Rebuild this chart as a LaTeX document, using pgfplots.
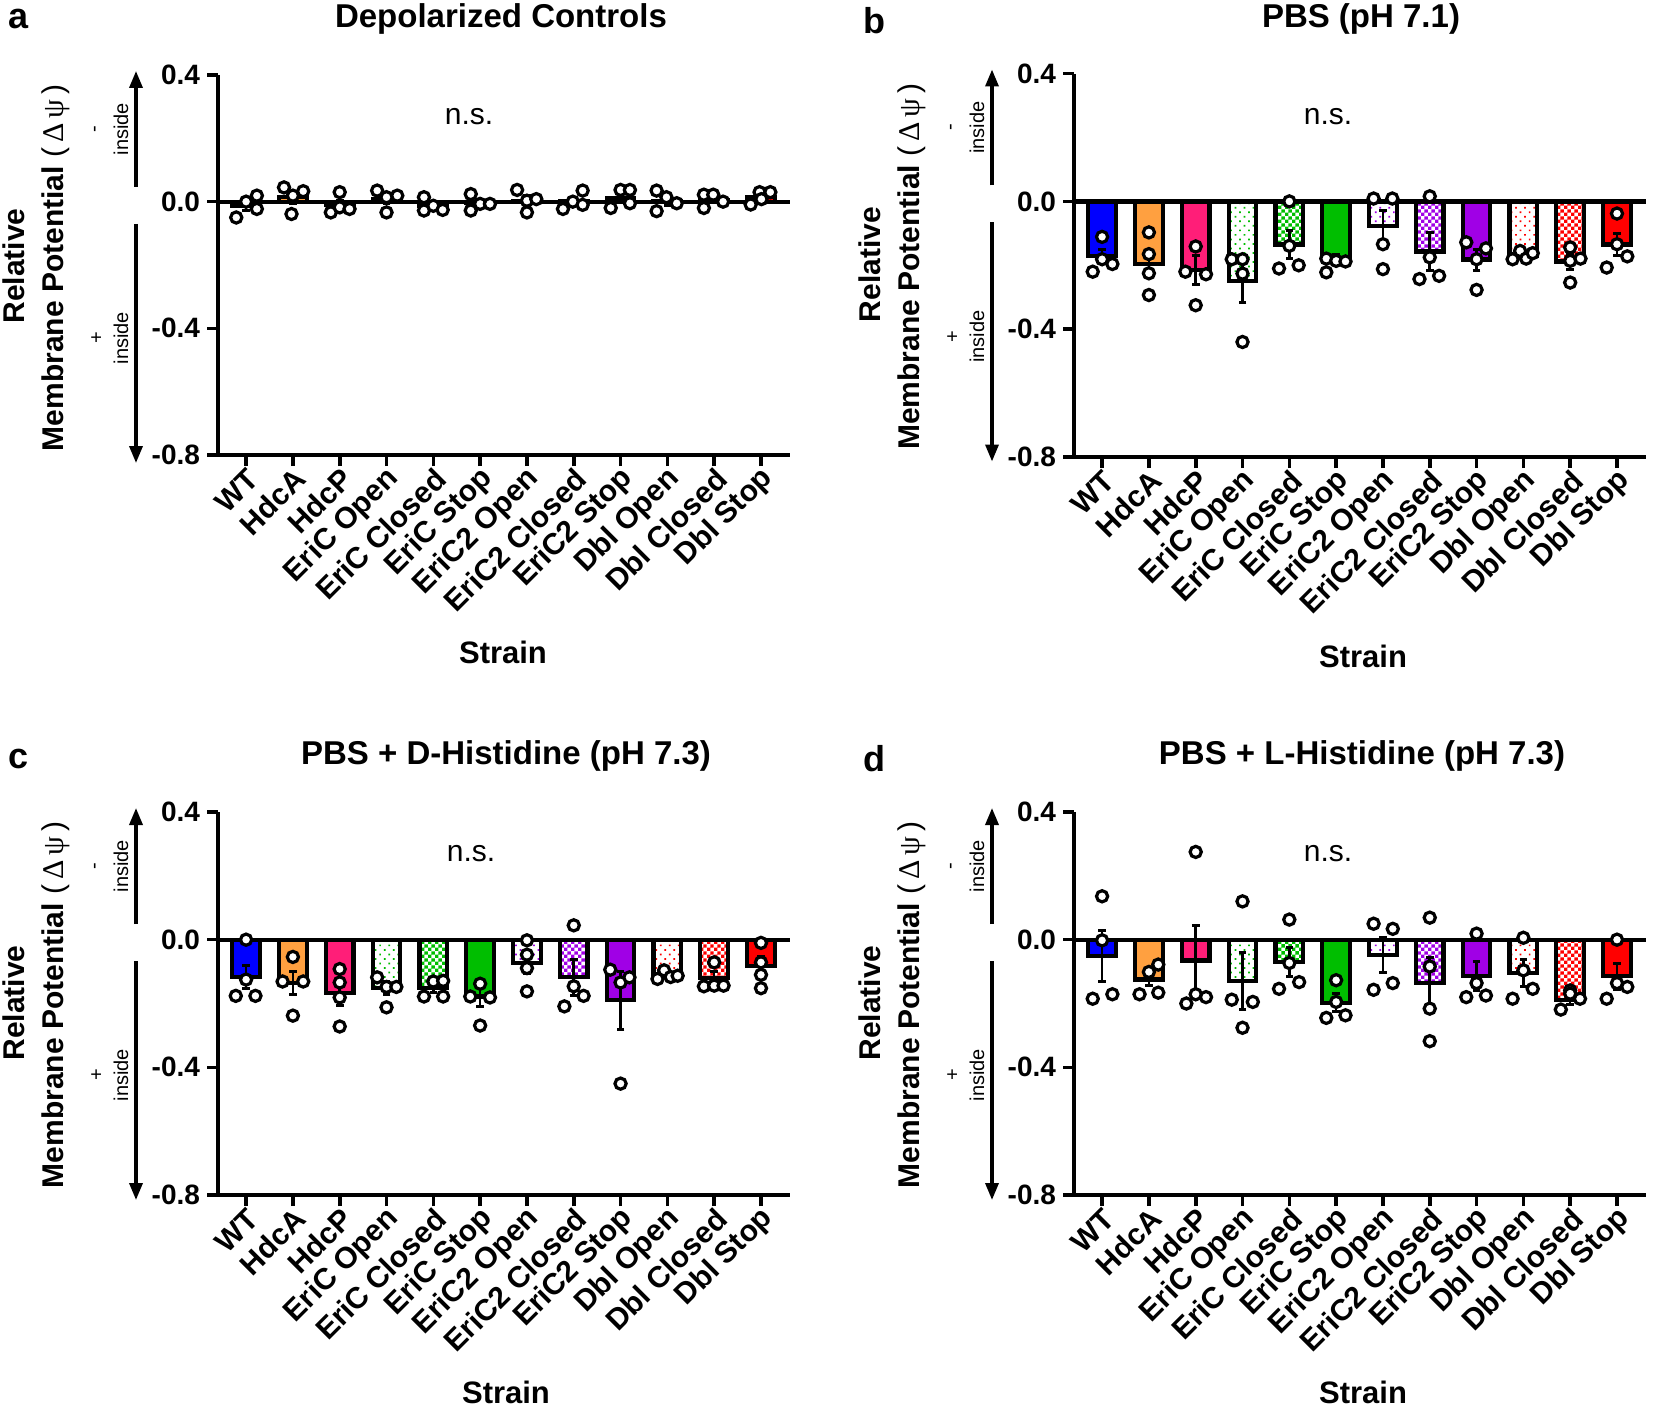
\documentclass[border=0pt]{standalone}
\usepackage{fontspec}
\setmainfont{Liberation Sans}
\newfontfamily\grk{Liberation Serif}
\usepackage{pgfplots}
\usepackage{pgfplotstable}
\pgfplotsset{compat=1.18}
\usetikzlibrary{patterns,patterns.meta,arrows.meta}

\definecolor{cblue}{RGB}{0,0,255}
\definecolor{corange}{RGB}{255,160,64}
\definecolor{cpink}{RGB}{255,30,120}
\definecolor{cgreen}{RGB}{0,190,0}
\definecolor{cpurple}{RGB}{160,0,230}
\definecolor{cred}{RGB}{255,0,0}

\pgfdeclarepatternformonly{finechecker}{\pgfpointorigin}{\pgfqpoint{3.4pt}{3.4pt}}{\pgfqpoint{3.4pt}{3.4pt}}{%
  \pgfpathrectangle{\pgfpointorigin}{\pgfqpoint{1.7pt}{1.7pt}}%
  \pgfpathrectangle{\pgfqpoint{1.7pt}{1.7pt}}{\pgfqpoint{1.7pt}{1.7pt}}%
  \pgfusepath{fill}}

\pgfplotsset{
  barbase/.style={ybar, bar width=0.59, bar shift=0pt, draw=black, line width=2.1pt,
    error bars/y dir=both, error bars/y explicit,
    error bars/error bar style={line width=1.3pt, black},
    error bars/error mark options={rotate=90, black, mark size=1.9pt, line width=1.5pt}},
  bs0/.style={barbase, fill=cblue},
  bs1/.style={barbase, fill=corange},
  bs2/.style={barbase, fill=cpink},
  bs3/.style={barbase, fill=white, postaction={pattern={Dots[angle=45,distance=3.2pt,radius=0.6pt]}, pattern color=cgreen}},
  bs4/.style={barbase, fill=white, postaction={pattern=finechecker, pattern color=cgreen}},
  bs5/.style={barbase, fill=cgreen},
  bs6/.style={barbase, fill=white, postaction={pattern={Dots[angle=45,distance=3.2pt,radius=0.6pt]}, pattern color=cpurple}},
  bs7/.style={barbase, fill=white, postaction={pattern=finechecker, pattern color=cpurple}},
  bs8/.style={barbase, fill=cpurple},
  bs9/.style={barbase, fill=white, postaction={pattern={Dots[angle=45,distance=3.2pt,radius=0.6pt]}, pattern color=cred}},
  bs10/.style={barbase, fill=white, postaction={pattern=finechecker, pattern color=cred}},
  bs11/.style={barbase, fill=cred},
  panel/.style={
    scale only axis, width=286pt, xmin=-0.6, xmax=11.62, ymin=-0.8, ymax=0.4,
    axis x line*=bottom, axis y line*=left, axis line style={line width=1.8pt},
    xtick={0,...,11},
    xticklabels={WT,HdcA,HdcP,EriC Open,EriC Closed,EriC Stop,EriC2 Open,EriC2 Closed,EriC2 Stop,Dbl Open,Dbl Closed,Dbl Stop},
    ytick={-0.8,-0.4,0,0.4}, yticklabels={-0.8,-0.4,0.0,0.4},
    tick align=outside, major tick length=5.5pt, tick style={line width=1.8pt, black},
    xticklabel style={rotate=45, anchor=east, font=\fontsize{15}{15}\selectfont\bfseries, inner sep=1pt, yshift=-5.5pt, xshift=1pt},
    yticklabel style={font=\fontsize{14}{14}\selectfont\bfseries},
    clip=false, anchor=south west,
  },
}

\pgfplotstableread{
x y e
0 -0.013 0.015
1 0.014 0.019
2 -0.011 0.014
3 0.008 0.015
4 -0.013 0.010
5 -0.005 0.011
6 0.003 0.015
7 0.001 0.012
8 0.012 0.015
9 0.003 0.014
10 0.006 0.010
11 0.015 0.010
}\barsA
\pgfplotstableread{
x y
-0.21 -0.05
0 0
0.23 0.019
0.23 -0.023
0.81 0.045
1 0.019
1.22 0.033
0.97 -0.039
1.81 -0.034
2 0.03
2 -0.018
2.21 -0.023
2.8 0.035
3 0.014
3.23 0.019
3 -0.034
3.8 0.014
3.8 -0.028
4 -0.013
4.2 -0.026
4.8 0.024
4.8 -0.028
5 -0.007
5.21 -0.007
5.79 0.037
6 0.003
6.2 0.008
6 -0.034
6.77 -0.023
6.98 0
7.19 0.035
7.19 -0.01
7.79 -0.02
8 0.037
8.2 0.037
8.2 -0.005
8.77 0.035
8.77 -0.03
8.98 0.014
9.2 -0.005
9.78 0.022
9.78 -0.02
9.98 0.022
10.19 0
10.78 -0.009
10.97 0.03
11.01 0.008
11.2 0.03
}\ptsA

\pgfplotstableread{
x y e
0 -0.172 0.023
1 -0.195 0.042
2 -0.215 0.045
3 -0.250 0.065
4 -0.135 0.045
5 -0.178 0.012
6 -0.078 0.050
7 -0.157 0.060
8 -0.182 0.033
9 -0.170 0.006
10 -0.188 0.024
11 -0.135 0.035
}\barsB
\pgfplotstableread{
x y
0 -0.111
0 -0.181
-0.2 -0.220
0.22 -0.196
1 -0.097
1 -0.165
1 -0.225
1 -0.293
2 -0.141
1.78 -0.22
2.22 -0.228
2 -0.325
2.77 -0.181
3 -0.181
3 -0.226
3 -0.44
4 0.0
4 -0.139
3.78 -0.21
4.2 -0.2
4.79 -0.179
4.79 -0.222
5 -0.186
5.2 -0.188
5.8 0.009
6.2 0.009
6 -0.134
6 -0.212
7 0.016
7 -0.175
6.78 -0.243
7.2 -0.233
7.78 -0.128
8.2 -0.147
8 -0.181
8 -0.277
8.77 -0.181
8.93 -0.155
9.06 -0.179
9.2 -0.162
10 -0.144
10 -0.186
10.22 -0.179
10 -0.254
11 -0.038
11 -0.134
11.22 -0.172
10.78 -0.207
}\ptsB

\pgfplotstableread{
x y e
0 -0.117 0.037
1 -0.135 0.036
2 -0.168 0.038
3 -0.152 0.020
4 -0.152 0.013
5 -0.178 0.030
6 -0.072 0.035
7 -0.118 0.057
8 -0.190 0.090
9 -0.110 0.006
10 -0.120 0.020
11 -0.082 0.030
}\barsC
\pgfplotstableread{
x y
0 0.0
0 -0.125
-0.22 -0.176
0.2 -0.176
1 -0.054
0.78 -0.131
1.22 -0.131
1 -0.238
2 -0.092
2 -0.134
2 -0.181
2 -0.272
2.8 -0.118
3 -0.148
3.21 -0.148
3 -0.212
4 -0.131
4.21 -0.129
3.8 -0.178
4.21 -0.178
5 -0.138
4.79 -0.178
5.21 -0.181
5 -0.269
6 -0.002
6 -0.047
6 -0.089
6 -0.162
7 0.045
7 -0.146
7.21 -0.176
6.8 -0.209
7.78 -0.094
8 -0.134
8.19 -0.118
8 -0.451
8.79 -0.123
8.93 -0.096
9.07 -0.117
9.22 -0.113
10 -0.071
9.78 -0.146
10 -0.144
10.2 -0.144
11 -0.01
11 -0.071
11 -0.11
11 -0.152
}\ptsC

\pgfplotstableread{
x y e
0 -0.050 0.080
1 -0.125 0.020
2 -0.065 0.110
3 -0.130 0.090
4 -0.070 0.045
5 -0.198 0.028
6 -0.048 0.055
7 -0.135 0.080
8 -0.113 0.045
9 -0.104 0.042
10 -0.190 0.014
11 -0.115 0.040
}\barsD
\pgfplotstableread{
x y
0 0.136
0 -0.002
-0.2 -0.185
0.22 -0.171
1 -0.101
1.2 -0.078
0.8 -0.171
1.2 -0.166
2 0.275
1.8 -0.2
2 -0.171
2.22 -0.18
3 0.12
2.77 -0.188
3.22 -0.195
3 -0.276
4 0.063
4 -0.073
3.78 -0.154
4.21 -0.133
5 -0.127
5 -0.195
4.79 -0.245
5.2 -0.237
5.8 0.05
6.21 0.034
5.8 -0.157
6.21 -0.136
7 0.069
7 -0.084
7 -0.216
7 -0.318
8 0.019
8 -0.136
7.78 -0.18
8.2 -0.175
9 0.006
9 -0.096
8.77 -0.185
9.2 -0.154
10 -0.159
9.8 -0.219
10 -0.169
10.21 -0.185
11 0.0
11 -0.136
10.78 -0.185
11.22 -0.148
}\ptsD

\newcommand\panelplots[2]{%
  \pgfplotsinvokeforeach{0,...,11}{%
    \addplot[bs##1, restrict expr to domain={\coordindex}{##1:##1}] table[x=x,y=y,y error=e] {#1};
  }
  \draw[line width=2.1pt] (axis cs:-0.6,0) -- (axis cs:11.62,0);
  \addplot[only marks, mark=*, mark size=2.8pt, mark options={fill=white,draw=black,line width=1.6pt}] table[x=x,y=y] {#2};
}

\newcommand\annot[2]{%
  \draw[line width=1.7pt,-{Triangle[length=8.5pt,width=6.5pt]}] ({#1-82},{#2+112}) -- ({#1-82},{#2-4});
  \draw[line width=1.7pt,-{Triangle[length=8.5pt,width=6.5pt]}] ({#1-82},{#2+149}) -- ({#1-82},{#2+388});
  \node[rotate=90,font=\fontsize{10}{10}\selectfont] at ({#1-97},{#2+54}) {inside};
  \node[rotate=90,font=\fontsize{10}{10}\selectfont] at ({#1-121},{#2+54}) {-};
  \node[rotate=90,font=\fontsize{10}{10}\selectfont] at ({#1-97},{#2+263}) {inside};
  \node[rotate=90,font=\fontsize{10}{10}\selectfont] at ({#1-121},{#2+263}) {+};
  \node[rotate=90,font=\fontsize{15}{15}\selectfont\bfseries] at ({#1-204},{#2+191}) {Relative};
  \node[rotate=90,font=\fontsize{15}{15}\selectfont\bfseries] at ({#1-162},{#2+193}) {Membrane Potential {\mdseries(\,{\grk Δ\,ψ}\,)}};
}

\begin{document}
\begin{tikzpicture}
\begin{scope}[x=0.5pt,y=-0.5pt]
  \path[use as bounding box] (0,0) rectangle (1654,1407);
  \annot{218}{75}
  \annot{1074}{73.5}
  \annot{218}{812}
  \annot{1074}{812}
  \node[font=\fontsize{16.5}{16.5}\selectfont\bfseries] at (501,19) {Depolarized Controls};
  \node[font=\fontsize{16.5}{16.5}\selectfont\bfseries] at (1361,19) {PBS (pH 7.1)};
  \node[font=\fontsize{16.5}{16.5}\selectfont\bfseries] at (506,756) {PBS + D-Histidine (pH 7.3)};
  \node[font=\fontsize{16.5}{16.5}\selectfont\bfseries] at (1362,756) {PBS + L-Histidine (pH 7.3)};
  \node[font=\fontsize{18}{18}\selectfont\bfseries] at (19,19) {a};
  \node[font=\fontsize{18}{18}\selectfont\bfseries] at (874,21) {b};
  \node[font=\fontsize{18}{18}\selectfont\bfseries] at (19,759) {c};
  \node[font=\fontsize{18}{18}\selectfont\bfseries] at (874,759) {d};
  \node[font=\fontsize{15}{15}\selectfont] at (469,117) {n.s.};
  \node[font=\fontsize{15}{15}\selectfont] at (1328,117) {n.s.};
  \node[font=\fontsize{15}{15}\selectfont] at (471,854) {n.s.};
  \node[font=\fontsize{15}{15}\selectfont] at (1328,854) {n.s.};
  \node[font=\fontsize{15.5}{15.5}\selectfont\bfseries] at (503,652) {Strain};
  \node[font=\fontsize{15.5}{15.5}\selectfont\bfseries] at (1363,656) {Strain};
  \node[font=\fontsize{15.5}{15.5}\selectfont\bfseries] at (506,1392) {Strain};
  \node[font=\fontsize{15.5}{15.5}\selectfont\bfseries] at (1363,1392) {Strain};
\end{scope}

\begin{axis}[panel, height=190pt, at={(109pt,-227.5pt)}]
  \panelplots{\barsA}{\ptsA}
\end{axis}
\begin{axis}[panel, height=191.7pt, at={(537pt,-228.5pt)}]
  \panelplots{\barsB}{\ptsB}
\end{axis}
\begin{axis}[panel, height=191.5pt, at={(109pt,-597.5pt)}]
  \panelplots{\barsC}{\ptsC}
\end{axis}
\begin{axis}[panel, height=191.5pt, at={(537pt,-597.5pt)}]
  \panelplots{\barsD}{\ptsD}
\end{axis}
\end{tikzpicture}
\end{document}
